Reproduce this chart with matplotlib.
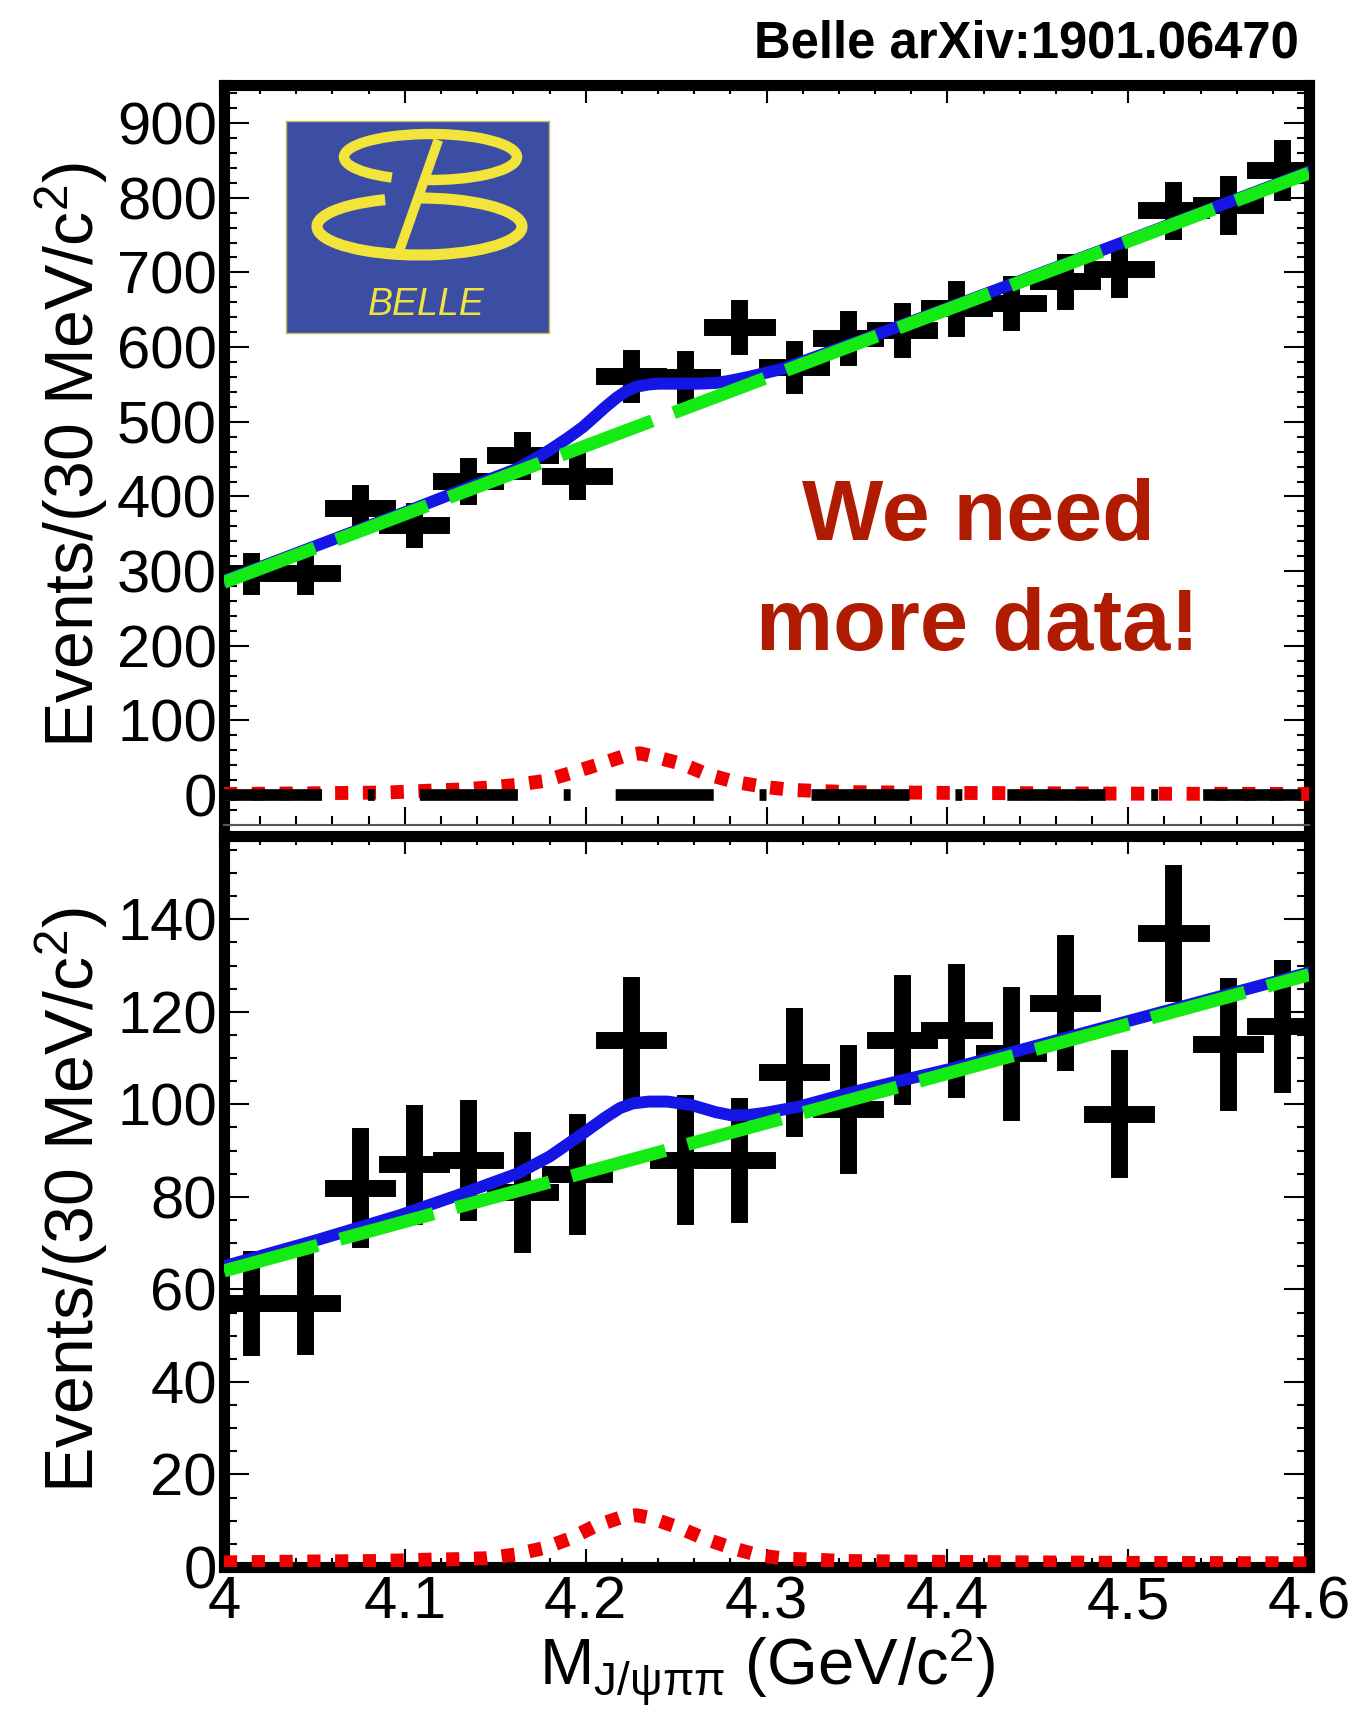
import matplotlib
matplotlib.use("Agg")
import matplotlib.pyplot as plt
from matplotlib.patches import Arc
from matplotlib.ticker import MultipleLocator, FuncFormatter

plt.rcParams['font.family'] = ['Liberation Sans', 'DejaVu Sans']
plt.rcParams['mathtext.fontset'] = 'custom'
plt.rcParams['mathtext.rm'] = 'Liberation Sans'
plt.rcParams['mathtext.it'] = 'Liberation Sans:italic'
plt.rcParams['mathtext.bf'] = 'Liberation Sans:bold'
plt.rcParams['mathtext.default'] = 'regular'
plt.rcParams['lines.scale_dashes'] = False

# 30 MeV bins, centres
mass = [4.015, 4.045, 4.075, 4.105, 4.135, 4.165, 4.195, 4.225, 4.255, 4.285,
        4.315, 4.345, 4.375, 4.405, 4.435, 4.465, 4.495, 4.525, 4.555, 4.585]
bin_half = 0.015

# upper panel data
top_counts = [297, 297, 385, 362, 421, 455, 428, 561, 560, 627,
              573, 612, 623, 652, 659, 688, 705, 783, 790, 837]
top_err = [17, 17, 20, 19, 20, 21, 21, 24, 24, 25,
           24, 25, 25, 26, 26, 26, 27, 28, 28, 29]

# lower panel data
bot_counts = [57, 57, 82, 87, 88, 81, 85, 114, 88, 88,
              107, 99, 114, 116, 111, 122, 98, 137, 113, 117]
bot_err = [9.5, 9.2, 11.2, 11.2, 11.2, 11.2, 11.2, 11.7, 12.2, 11.7,
           12.2, 12.2, 12.2, 12.7, 12.7, 12.9, 12.0, 12.9, 12.5, 12.5]

# fit curves
top_bkg_x = [4.0, 4.6]
top_bkg_y = [285, 833]
top_tot_x = [4.0, 4.05, 4.097, 4.134, 4.162, 4.171, 4.18, 4.19, 4.1985, 4.205,
             4.211, 4.217, 4.2225, 4.228, 4.235, 4.24, 4.254, 4.262, 4.272, 4.28,
             4.29, 4.309, 4.35, 4.4, 4.5, 4.6]
top_tot_y = [287, 333, 376, 411, 437, 449, 462, 478, 493, 507,
             520, 532, 541, 547, 550, 551, 551, 551, 552, 555,
             560, 571, 607, 652, 743, 835]
top_sig_x = [4.0, 4.05, 4.09, 4.114, 4.13, 4.145, 4.161, 4.177, 4.191, 4.207,
             4.222, 4.23, 4.237, 4.253, 4.267, 4.283, 4.299, 4.314, 4.33, 4.346,
             4.4, 4.5, 4.6]
top_sig_y = [1.5, 2.5, 3.5, 6, 7.5, 10, 13.5, 19, 29, 41,
             53, 56, 52, 42, 28, 17.5, 11, 7, 5.4, 4,
             3, 2, 1.5]
top_zero_x = [4.0, 4.6]
top_zero_y = [0, 0]

bot_bkg_x = [4.0, 4.6]
bot_bkg_y = [64, 128]
bot_tot_x = [4.0, 4.05, 4.097, 4.134, 4.162, 4.18, 4.1985, 4.211, 4.219, 4.226,
             4.235, 4.245, 4.258, 4.272, 4.281, 4.29, 4.30, 4.318, 4.346, 4.4,
             4.5, 4.6]
bot_tot_y = [65, 70.5, 76, 81, 85, 88.7, 93.7, 97.2, 99.2, 100.2,
             100.6, 100.6, 99.9, 98.3, 97.6, 97.7, 98.2, 99.5, 102.5, 107.5,
             118, 128.5]
bot_sig_x = [4.0, 4.05, 4.086, 4.114, 4.129, 4.145, 4.161, 4.177, 4.191, 4.205,
             4.22, 4.228, 4.236, 4.251, 4.266, 4.281, 4.296, 4.311, 4.326, 4.343,
             4.4, 4.5, 4.6]
bot_sig_y = [1.0, 1.2, 1.3, 1.6, 1.7, 1.9, 2.7, 4.1, 6.1, 8.8,
             10.8, 11.2, 10.6, 8.6, 6.1, 4.1, 2.5, 1.8, 1.6, 1.3,
             1.1, 0.9, 0.8]

W, H = 1367, 1729
fig = plt.figure(figsize=(W / 100, H / 100), dpi=100)

ax1 = fig.add_axes([224 / W, 1 - 825 / H, (1309 - 224) / W, (825 - 85) / H])
ax2 = fig.add_axes([224 / W, 1 - 1567 / H, (1309 - 224) / W, (1567 - 836) / H])

blue = '#1515e6'
green = '#14ea14'
red = '#f00000'


def draw_panel(ax, counts, err, tot_x, tot_y, bkg_x, bkg_y, sig_x, sig_y):
    eb = ax.errorbar(mass, counts, xerr=bin_half, yerr=err, fmt='none',
                     ecolor='black', elinewidth=12.2, capsize=0, zorder=2)
    for lc in eb[2]:
        lc.set_capstyle('projecting')
    ax.plot(tot_x, tot_y, color=blue, lw=8.6, zorder=3, solid_joinstyle='round')
    ax.plot(bkg_x, bkg_y, color=green, lw=9.4, dashes=(70, 16.5), zorder=4)
    ax.plot(sig_x, sig_y, color=red, lw=10, dashes=(9.5, 10.5), zorder=3)

    ax.set_xlim(4.0, 4.6)
    ax.xaxis.set_major_locator(MultipleLocator(0.1))
    ax.xaxis.set_minor_locator(MultipleLocator(0.02))
    ax.xaxis.set_major_formatter(FuncFormatter(lambda v, p: '%g' % round(v, 2)))
    ax.tick_params(which='both', direction='in', top=True, right=True,
                   width=1.5, labelsize=43)
    ax.tick_params(axis='y', which='major', length=18, pad=5)
    ax.tick_params(axis='y', which='minor', length=9)
    ax.tick_params(axis='x', which='major', length=13, pad=6)
    ax.tick_params(axis='x', which='minor', length=6.5)
    for sp in ax.spines.values():
        sp.set_linewidth(8)


draw_panel(ax1, top_counts, top_err, top_tot_x, top_tot_y,
           top_bkg_x, top_bkg_y, top_sig_x, top_sig_y)
ax1.plot(top_zero_x, top_zero_y, color='black', lw=8.4,
         dashes=(70.6, 33, 5, 32.4), zorder=3.5)
ax1.set_ylim(-40, 951)
ax1.yaxis.set_major_locator(MultipleLocator(100))
ax1.yaxis.set_minor_locator(MultipleLocator(20))
ax1.tick_params(labelbottom=False)
ax1.spines['bottom'].set_linewidth(1.5)
ax1.spines['bottom'].set_color('#555555')

draw_panel(ax2, bot_counts, bot_err, bot_tot_x, bot_tot_y,
           bot_bkg_x, bot_bkg_y, bot_sig_x, bot_sig_y)
ax2.set_ylim(0, 158)
ax2.yaxis.set_major_locator(MultipleLocator(20))
ax2.yaxis.set_minor_locator(MultipleLocator(5))

# axis titles
ylab = r'Events/(30 MeV/c$^{2}$)'
fig.text(94 / W, 1 - 455 / H, ylab, rotation=90, rotation_mode='anchor',
         ha='center', va='baseline', fontsize=49)
fig.text(94 / W, 1 - 1200 / H, ylab, rotation=90, rotation_mode='anchor',
         ha='center', va='baseline', fontsize=49)
fig.text(767 / W, 1 - 1687 / H, r'M$_{J/\psi\pi\pi}$ (GeV/c$^{2}$)',
         ha='center', va='baseline', fontsize=47)

fig.text(1299 / W, 1 - 57 / H, 'Belle arXiv:1901.06470', ha='right',
         va='baseline', fontsize=36.5, fontweight='bold')
fig.text(978 / W, 1 - 540 / H, 'We need', ha='center', va='baseline',
         fontsize=62, fontweight='bold', color='#b01c02')
fig.text(978 / W, 1 - 650 / H, 'more data!', ha='center', va='baseline',
         fontsize=62.5, fontweight='bold', color='#b01c02')

# Belle logo
yellow = '#f2e43a'
lax = fig.add_axes([286 / W, 1 - 333 / H, 263 / W, 212 / H])
lax.set_xlim(0, 263)
lax.set_ylim(0, 212)
lax.set_facecolor('#3b4ea3')
lax.set_xticks([])
lax.set_yticks([])
for sp in lax.spines.values():
    sp.set_color('#c8bf5a')
    sp.set_linewidth(1)
lax.add_patch(Arc((133.5, 106.5), 205, 57, theta1=142, theta2=95, lw=8, color=yellow))
lax.add_patch(Arc((144.5, 176), 173, 46, theta1=262, theta2=208, lw=7.5, color=yellow))
lax.plot([152.3, 110.7], [193, 74.7], color=yellow, lw=7, solid_capstyle='butt')
lax.text(140.7, 18, 'BELLE', style='italic', color=yellow, fontsize=27,
         ha='center', va='baseline')

fig.savefig('out.png', dpi=100)
